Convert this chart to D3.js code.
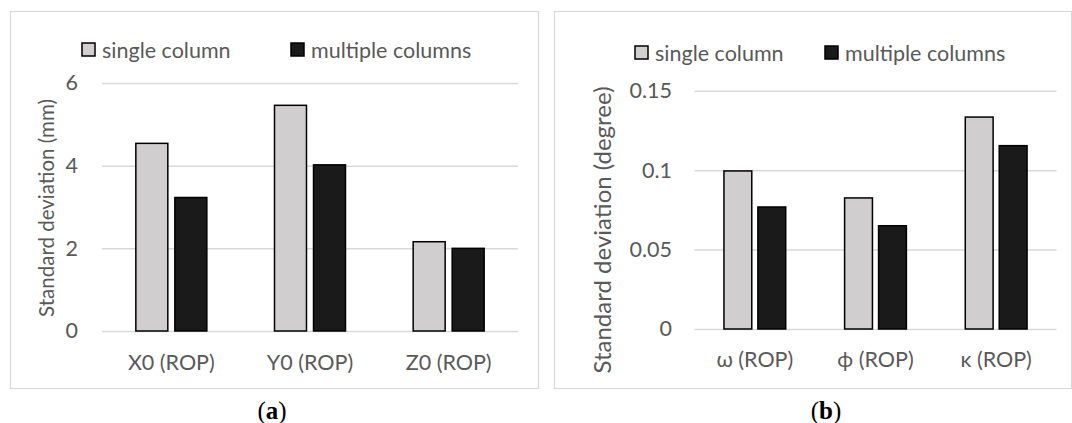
<!DOCTYPE html>
<html>
<head>
<meta charset="utf-8">
<script src="https://cdn.jsdelivr.net/npm/d3@7/dist/d3.min.js"></script>
<style>
  html, body { margin: 0; padding: 0; background: #fff; }
  svg { display: block; }
  text { font-family: Lato, "Open Sans", sans-serif; fill: #595959; }
</style>
</head>
<body>
<svg id="chart" width="1072" height="423"></svg>
<script>
// Series shared by both panels
const seriesNames = ["single column", "multiple columns"];
const seriesFill = ["#d0cece", "#1a1a1a"];

// Panel (a): position parameters
const catsA = ["X0 (ROP)", "Y0 (ROP)", "Z0 (ROP)"];
const singleA = [4.54, 5.46, 2.16];
const multipleA = [3.23, 4.02, 2.0];
const ticksA = [0, 2, 4, 6];
const tickLabelsA = ["0", "2", "4", "6"];

// Panel (b): orientation parameters
const catsB = ["ω (ROP)", "ϕ (ROP)", "κ (ROP)"];
const singleB = [0.0995, 0.0825, 0.1334];
const multipleB = [0.0768, 0.065, 0.1154];
const ticksB = [0, 0.05, 0.1, 0.15];
const tickLabelsB = ["0", "0.05", "0.1", "0.15"];

const svg = d3.select("#chart");

function drawPanel(p) {
  const g = svg.append("g");

  // outer frame
  g.append("rect")
    .attr("x", p.frame[0] + 0.5).attr("y", p.frame[1] + 0.5)
    .attr("width", p.frame[2] - p.frame[0]).attr("height", p.frame[3] - p.frame[1])
    .attr("fill", "#fff").attr("stroke", "#d9d9d9").attr("stroke-width", 1.2);

  const y = d3.scaleLinear().domain([0, p.ticks[p.ticks.length - 1]])
    .range([p.plot[3], p.plot[1]]);
  const x0 = d3.scaleBand().domain(p.cats).range([p.plot[0], p.plot[2]]);
  const bw = x0.bandwidth();
  const groupW = bw * 0.512;
  const x1 = d3.scaleBand().domain(seriesNames).range([0, groupW]).paddingInner(0.18);

  // gridlines + tick labels via axis
  const axis = d3.axisLeft(y).tickValues(p.ticks)
    .tickFormat((d, i) => p.tickLabels[i])
    .tickSize(-(p.plot[2] - p.plot[0])).tickPadding(p.plot[0] - p.tickRight);
  const ax = g.append("g").attr("transform", `translate(${p.plot[0]},0)`).call(axis);
  ax.select(".domain").remove();
  ax.selectAll(".tick line").attr("stroke", "#d9d9d9").attr("stroke-width", 1.5);
  ax.selectAll(".tick text").attr("fill", "#595959")
    .style("font-family", "Lato, sans-serif").style("font-size", "21.5px");

  // bars
  const values = [p.single, p.multiple];
  const rows = p.cats.map((c, i) => ({ cat: c, vals: values.map((v, s) => ({ s, v: v[i] })) }));
  const grp = g.selectAll(".grp").data(rows).join("g")
    .attr("transform", d => `translate(${x0(d.cat) + (bw - groupW) / 2},0)`);
  grp.selectAll("rect").data(d => d.vals).join("rect")
    .attr("x", d => x1(seriesNames[d.s]))
    .attr("y", d => y(d.v))
    .attr("width", x1.bandwidth())
    .attr("height", d => y(0) - y(d.v))
    .attr("fill", d => seriesFill[d.s])
    .attr("stroke", "#000").attr("stroke-width", 1.5);

  // category labels
  const xa = d3.axisBottom(x0).tickSize(0).tickPadding(0);
  const xg = g.append("g").attr("transform", `translate(0,${p.catBaseline})`).call(xa);
  xg.select(".domain").remove();
  xg.selectAll(".tick text").attr("dy", 0).attr("y", 0).attr("fill", "#595959")
    .style("font-family", "Lato, sans-serif").style("font-size", "21.5px");

  // y title
  g.append("text")
    .attr("transform", `translate(${p.titleX},${p.titleY}) rotate(-90)`)
    .attr("text-anchor", "middle").attr("dominant-baseline", "central")
    .style("font-size", p.titleSize + "px").text(p.title);

  // legend
  seriesNames.forEach((name, s) => {
    g.append("rect")
      .attr("x", p.legend[s]).attr("y", p.legendY)
      .attr("width", 13).attr("height", 13)
      .attr("fill", seriesFill[s]).attr("stroke", "#000").attr("stroke-width", 1.5);
    g.append("text")
      .attr("x", p.legend[s] + 20).attr("y", p.legendY + 6.5)
      .attr("dominant-baseline", "central")
      .style("font-size", "21.5px").text(name);
  });

  // panel caption
  const cap = g.append("text")
    .attr("x", p.captionX).attr("y", 419)
    .attr("text-anchor", "middle")
    .style("font-family", "'Liberation Serif', 'DejaVu Serif', serif")
    .style("font-size", "25px").style("fill", "#000");
  cap.append("tspan").text("(");
  cap.append("tspan").style("font-weight", "bold").text(p.caption);
  cap.append("tspan").text(")");
}

drawPanel({
  frame: [10, 11, 538, 388], plot: [102, 83, 518, 331],
  cats: catsA, single: singleA, multiple: multipleA,
  ticks: ticksA, tickLabels: tickLabelsA, tickRight: 78,
  catBaseline: 370, title: "Standard deviation (mm)", titleX: 46, titleY: 208, titleSize: 20.5,
  legend: [82, 291], legendY: 43, caption: "a", captionX: 272
});

drawPanel({
  frame: [554, 11, 1071, 388], plot: [694.5, 90.7, 1056.5, 329],
  cats: catsB, single: singleB, multiple: multipleB,
  ticks: ticksB, tickLabels: tickLabelsB, tickRight: 672,
  catBaseline: 367, title: "Standard deviation (degree)", titleX: 601, titleY: 230, titleSize: 24,
  legend: [635, 825], legendY: 46, caption: "b", captionX: 826
});
</script>
</body>
</html>
